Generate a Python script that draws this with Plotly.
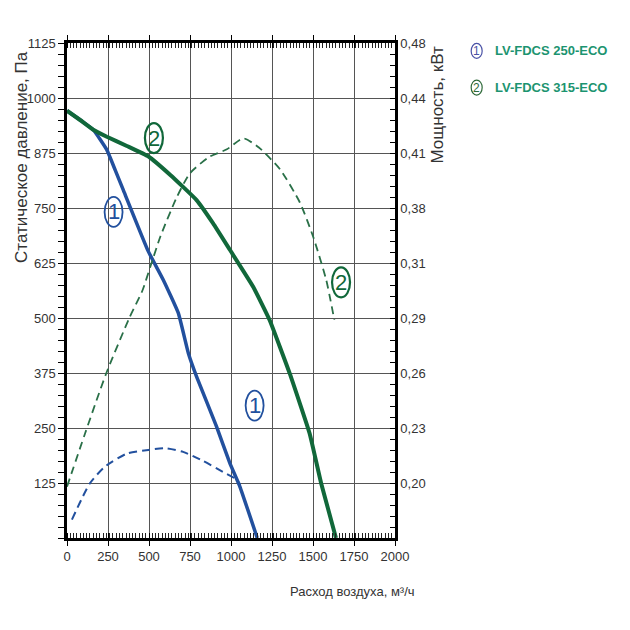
import numpy as np
import plotly.graph_objects as go

# ---------------- data ----------------
# Pressure curves (Pa) vs airflow (m3/h)
flow_250 = [0, 81, 162, 243, 294, 343, 495, 588, 679, 740, 790, 912, 993, 1054, 1160]
pres_250 = [971, 950, 927, 882, 836, 791, 652, 586, 511, 420, 367, 253, 170, 117, 0]

flow_315 = [0, 80, 160, 243, 365, 497, 630, 790, 891, 993, 1135, 1236, 1358, 1479, 1550, 1640]
pres_315 = [971, 950, 928, 912, 891, 867, 825, 768, 715, 655, 571, 495, 374, 238, 124, 0]

# Power curves (kW) vs airflow (m3/h)
pflow_250 = [30, 141, 233, 364, 496, 597, 708, 830, 952, 1033, 1057]
power_250 = [0.180, 0.200, 0.209, 0.216, 0.218, 0.219, 0.217, 0.212, 0.206, 0.202, 0.199]

pflow_315 = [0, 110, 240, 380, 460, 510, 570, 670, 750, 870, 975, 1075, 1170, 1300, 1420, 1500, 1580, 1630]
power_315 = [0.198, 0.227, 0.260, 0.290, 0.300, 0.309, 0.344, 0.386, 0.399, 0.408, 0.412, 0.418,
             0.413, 0.401, 0.383, 0.344, 0.304, 0.289]

# Axis ticks
x_ticks = [0, 250, 500, 750, 1000, 1250, 1500, 1750, 2000]
y_ticks = [0, 125, 250, 375, 500, 625, 750, 875, 1000, 1125]
y_tick_labels = ["", "125", "250", "375", "500", "625", "750", "875", "1000", "1125"]
# right axis: positions on pressure scale and their (non-uniform) kW labels
power_pos = [0, 125, 250, 375, 500, 625, 750, 875, 1000, 1125]
power_kw = [0.17, 0.20, 0.23, 0.26, 0.29, 0.31, 0.38, 0.41, 0.44, 0.48]
power_labels = ["", "0,20", "0,23", "0,26", "0,29", "0,31", "0,38", "0,41", "0,44", "0,48"]

series_names = ["LV-FDCS 250-ECO", "LV-FDCS 315-ECO"]

# ---------------- style ----------------
BLUE = "#22509e"
GREEN = "#11683a"
LEG_TEXT = "#1c9470"
NARROW = "Liberation Sans Narrow, Arial Narrow, Liberation Sans, sans-serif"
REG = "Liberation Sans, Arial, sans-serif"
TXT = "#333333"


def to_pos(kw):
    return np.interp(kw, power_kw, power_pos)


fig = go.Figure()
fig.add_trace(go.Scatter(x=flow_250, y=pres_250, mode="lines", name=series_names[0],
                         line=dict(color=BLUE, width=3.5, shape="spline", smoothing=0.35)))
fig.add_trace(go.Scatter(x=flow_315, y=pres_315, mode="lines", name=series_names[1],
                         line=dict(color=GREEN, width=4, shape="spline", smoothing=0.35)))
fig.add_trace(go.Scatter(x=pflow_250, y=to_pos(power_250), mode="lines", yaxis="y2",
                         line=dict(color=BLUE, width=2, dash="8px,5px", shape="spline", smoothing=0.6)))
fig.add_trace(go.Scatter(x=pflow_315, y=to_pos(power_315), mode="lines", yaxis="y2",
                         line=dict(color="#2a7048", width=1.8, dash="8px,5px", shape="spline", smoothing=0.6)))

fig.update_layout(
    width=630, height=630,
    margin=dict(l=67, r=235, t=43, b=92),
    paper_bgcolor="white", plot_bgcolor="white",
    showlegend=False,
    xaxis=dict(range=[0, 2000], tickvals=x_ticks, showgrid=True, gridcolor="#555555", gridwidth=1.3,
               showline=True, linecolor="black", linewidth=2.5, mirror="allticks",
               ticks="outside", ticklen=5, tickcolor="black", tickwidth=1,
               minor=dict(dtick=20, tick0=0, ticks="inside", ticklen=4, tickcolor="#222",
                          tickwidth=1, showgrid=False),
               tickfont=dict(family=NARROW, size=13, color=TXT), zeroline=False),
    yaxis=dict(range=[0, 1125], tickvals=y_ticks, ticktext=y_tick_labels, showgrid=True,
               gridcolor="#555555", gridwidth=1.3,
               showline=True, linecolor="black", linewidth=2.5,
               ticks="outside", ticklen=6, tickcolor="black",
               minor=dict(dtick=25, tick0=0, ticks="outside", ticklen=6, tickcolor="black", showgrid=False),
               tickfont=dict(family=NARROW, size=13, color=TXT), zeroline=False),
    yaxis2=dict(range=[0, 1125], overlaying="y", side="right", tickvals=power_pos, ticktext=power_labels,
                showgrid=False, showline=True, linecolor="black", linewidth=2.5,
                ticks="inside", ticklen=5, tickcolor="black",
                minor=dict(dtick=25, tick0=0, ticks="inside", ticklen=5, tickcolor="black"),
                tickfont=dict(family=NARROW, size=13, color=TXT), zeroline=False),
)

# axis titles
fig.add_annotation(text="Статическое давление, Па", xref="paper", yref="paper", x=-0.137, y=0.77,
                   textangle=-90, showarrow=False, font=dict(family=REG, size=17, color=TXT),
                   xanchor="center", yanchor="middle")
fig.add_annotation(text="Мощность, кВт", xref="paper", yref="paper", x=1.13, y=0.875,
                   textangle=-90, showarrow=False, font=dict(family=REG, size=17, color=TXT),
                   xanchor="center", yanchor="middle")
fig.add_annotation(text="Расход воздуха, м³/ч", xref="paper", yref="paper", x=0.869, y=-0.109,
                   showarrow=False, font=dict(family=NARROW, size=13, color=TXT),
                   xanchor="center", yanchor="middle")


def circled(xv, yv, digit, color, xref, yref, w, h, fsize, lw=1.8):
    fig.add_shape(type="circle", xref=xref, yref=yref, xsizemode="pixel", ysizemode="pixel",
                  xanchor=xv, yanchor=yv, x0=-w / 2, x1=w / 2, y0=-h / 2, y1=h / 2,
                  line=dict(color=color, width=lw), fillcolor="rgba(255,255,255,0)")
    fig.add_annotation(text=digit, xref=xref, yref=yref, x=xv, y=yv, showarrow=False,
                       font=dict(family=REG, size=fsize, color=color), xanchor="center", yanchor="middle")


# in-chart curve markers
circled(284, 741, "1", BLUE, "x", "y", 18, 30, 22)
circled(1144, 301, "1", BLUE, "x", "y", 18, 30, 22)
circled(530, 909, "2", GREEN, "x", "y", 18, 30, 22, lw=2.2)
circled(1671, 581, "2", GREEN, "x", "y", 18, 30, 22, lw=2.2)

# legend
circled(1.249, 0.984, "1", "#4a52a6", "paper", "paper", 11, 15, 12, lw=1.2)
circled(1.249, 0.910, "2", "#2f6a3a", "paper", "paper", 11, 15, 12, lw=1.2)
fig.add_annotation(text="<b>" + series_names[0] + "</b>", xref="paper", yref="paper", x=1.299, y=0.984,
                   showarrow=False, xanchor="left", yanchor="middle",
                   font=dict(family=NARROW, size=13, color=LEG_TEXT))
fig.add_annotation(text="<b>" + series_names[1] + "</b>", xref="paper", yref="paper", x=1.299, y=0.910,
                   showarrow=False, xanchor="left", yanchor="middle",
                   font=dict(family=NARROW, size=13, color=LEG_TEXT))

fig.write_html("out.html")
